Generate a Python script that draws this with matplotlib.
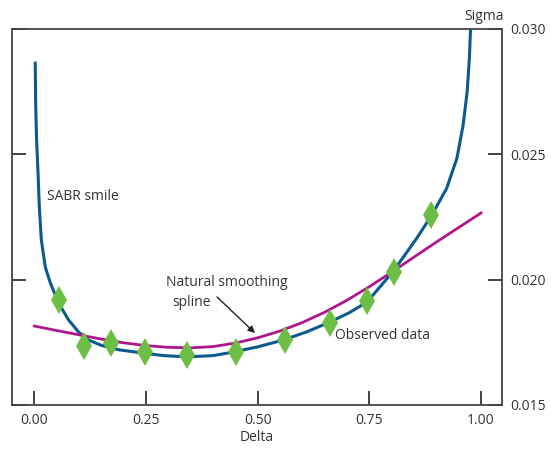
import matplotlib
matplotlib.use("Agg")
import matplotlib.pyplot as plt

plt.rcParams['font.family'] = ['Open Sans', 'DejaVu Sans']

# observed data points (delta, sigma)
obs_delta = [0.056, 0.112, 0.172, 0.248, 0.342, 0.452, 0.562, 0.662, 0.745, 0.805, 0.888]
obs_sigma = [0.01919, 0.01735, 0.01747, 0.01711, 0.01699, 0.01711, 0.01759, 0.01827, 0.01915, 0.02031, 0.02258]

# SABR smile curve
sabr_delta = [0.002, 0.003, 0.005, 0.0083, 0.0112, 0.0157, 0.0246, 0.0358, 0.0544, 0.0767, 0.0991,
              0.1215, 0.150, 0.190, 0.244, 0.290, 0.342, 0.400, 0.445, 0.500, 0.557, 0.610,
              0.662, 0.705, 0.745, 0.789, 0.819, 0.856, 0.890, 0.923, 0.946, 0.960,
              0.969, 0.974, 0.977]
sabr_sigma = [0.02864, 0.02700, 0.02560, 0.02425, 0.02290, 0.02158, 0.02050, 0.01987, 0.01907, 0.01839, 0.01791,
              0.01759, 0.01738, 0.01720, 0.01707, 0.01697, 0.01692, 0.01697, 0.01711, 0.01732, 0.01759, 0.01792,
              0.01831, 0.01868, 0.01911, 0.02003, 0.02072, 0.02165, 0.02258, 0.02364, 0.02484, 0.02617,
              0.02750, 0.02883, 0.03020]

# natural smoothing spline
spl_delta = [0.0, 0.05, 0.10, 0.15, 0.20, 0.25, 0.30, 0.35, 0.40, 0.45, 0.50, 0.55, 0.60, 0.65,
             0.70, 0.75, 0.80, 0.85, 0.90, 0.95, 1.0]
spl_sigma = [0.01815, 0.01797, 0.01780, 0.01763, 0.01748, 0.01737, 0.01730, 0.01728, 0.01733, 0.01747,
             0.01768, 0.01795, 0.01829, 0.01870, 0.01918, 0.01972, 0.02030, 0.02090, 0.02150, 0.02208,
             0.02266]

xticks = [0.0, 0.25, 0.5, 0.75, 1.0]
xticklabels = ['0.00', '0.25', '0.50', '0.75', '1.00']
yticks = [0.015, 0.020, 0.025, 0.030]
yticklabels = ['0.015', '0.020', '0.025', '0.030']

fig = plt.figure(figsize=(5.51, 4.5), dpi=100)
ax = fig.add_axes([12 / 551, 45 / 450, 490 / 551, 376 / 450])

ax.plot(sabr_delta, sabr_sigma, color='#0B5A8E', lw=2.2, zorder=2)
ax.plot(spl_delta, spl_sigma, color='#B0168C', lw=2.0, zorder=3)
ax.plot(obs_delta, obs_sigma, linestyle='none', marker='d', markersize=14,
        color='#6DBE45', markeredgewidth=0, zorder=4)

ax.set_xlim(-0.05, 1.047)
ax.set_ylim(0.015, 0.030)

ax.set_xticks(xticks)
ax.set_xticklabels(xticklabels)
ax.set_yticks(yticks)
ax.set_yticklabels(yticklabels)
ax.tick_params(axis='x', direction='in', length=10, width=1.2, color='#222222',
               labelsize=10, pad=6, labelcolor='#333333')
ax.tick_params(axis='y', direction='in', length=10, width=1.2, color='#222222',
               left=True, right=True, labelleft=False, labelright=True,
               labelsize=10, pad=6, labelcolor='#333333')

for s in ax.spines.values():
    s.set_color('#444444')
    s.set_linewidth(1.3)

ax.set_xlabel('Delta', fontsize=10, color='#333333', labelpad=1)
ax.text(0.963, 1.012, 'Sigma', transform=ax.transAxes, ha='center', va='bottom',
        fontsize=10, color='#333333')

ax.text(0.028, 0.0233, 'SABR smile', fontsize=10, color='#333333', va='center')
ax.text(0.295, 0.01987, 'Natural smoothing', fontsize=10, color='#333333', va='center')
ax.text(0.309, 0.01907, 'spline', fontsize=10, color='#333333', va='center')
ax.text(0.673, 0.01779, 'Observed data', fontsize=10, color='#333333', va='center')
ax.annotate('', xy=(0.494, 0.01787), xytext=(0.409, 0.01931),
            arrowprops=dict(arrowstyle='-|>', color='#222222', lw=1.0,
                            mutation_scale=10, shrinkA=0, shrinkB=0))

fig.savefig('out.png', dpi=100)
